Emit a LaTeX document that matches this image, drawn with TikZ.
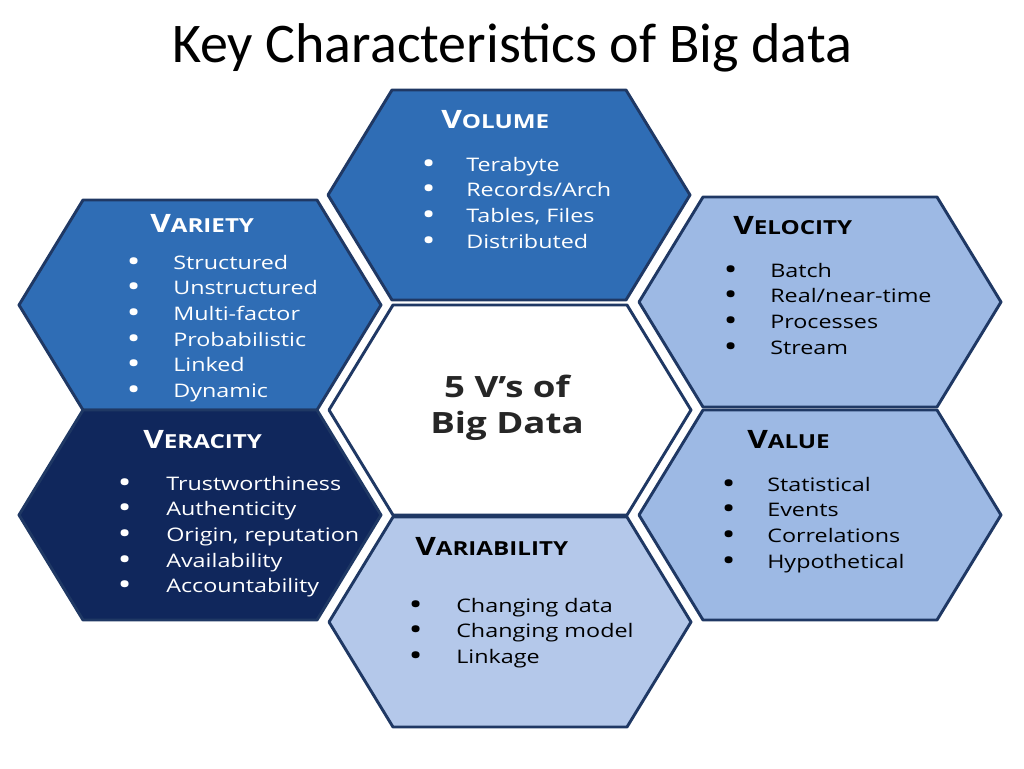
\documentclass[tikz,border=0pt]{standalone}
\usepackage{fontspec}
\setmainfont{Open Sans}[FakeStretch=1.25]
\newfontfamily\titlefont{Carlito}
\definecolor{bord}{HTML}{1F3864}
\definecolor{midblue}{HTML}{2F6DB5}
\definecolor{lightblue}{HTML}{9DB9E4}
\definecolor{paleblue}{HTML}{B4C8EA}
\definecolor{navy}{HTML}{10275C}
\newcommand{\hexagon}[3]{%
  \filldraw[fill=#3,draw=bord,line width=2.2pt,line join=round]
   (#1-181,#2) -- (#1-117,#2-105) -- (#1+117,#2-105) -- (#1+181,#2) -- (#1+117,#2+105) -- (#1-117,#2+105) -- cycle;}
\newcommand{\hd}[2]{{\fontsize{19}{19}\selectfont #1}{\fontsize{14.5}{14.5}\selectfont #2}}
\tikzset{item/.style={anchor=base west,inner sep=0pt,font=\fontsize{14}{14}\selectfont},
  head/.style={anchor=base west,inner sep=0pt,font=\bfseries}}
\newcommand{\items}[5]{% bulletx textx firsty color list
  \foreach \t [count=\i from 0] in {#5}{
    \node[item,text=#4] at (#1,#3+\i*25.7) {\bfseries\fontsize{17}{17}\selectfont •};
    \node[item,text=#4] at (#2,#3+\i*25.7) {\t};}}
\begin{document}
\begin{tikzpicture}[x=0.75pt,y=-0.75pt]
\useasboundingbox (0,0) rectangle (1024,768);
\node[font=\titlefont\fontsize{42}{42}\selectfont] (title) at (512,48) {Key Characteristics of Big data};
\hexagon{510}{410}{white}
\hexagon{509}{195}{midblue}
\hexagon{200}{305}{midblue}
\hexagon{820}{302}{lightblue}
\hexagon{200}{515}{navy}
\hexagon{820}{515}{lightblue}
\hexagon{510}{622}{paleblue}
% Volume
\node[head,text=white] (hvol) at (441,128) {\hd{V}{OLUME}};
\items{423}{466}{171}{white}{Terabyte,Records/Arch,{Tables, Files},Distributed}
% Variety
\node[head,text=white] (hvar) at (150,232) {\hd{V}{ARIETY}};
\items{128}{173}{269}{white}{Structured,Unstructured,Multi-factor,Probabilistic,Linked,Dynamic}
% Velocity
\node[head,text=black] (hvel) at (733,234) {\hd{V}{ELOCITY}};
\items{725}{770}{277}{black}{Batch,Real/near-time,Processes,Stream}
% Veracity
\node[head,text=white] (hver) at (143,448) {\hd{V}{ERACITY}};
\items{119}{166}{490}{white}{Trustworthiness,Authenticity,{Origin, reputation},Availability,Accountability}
% Value
\node[head,text=black] (hval) at (747,448) {\hd{V}{ALUE}};
\items{723}{767}{491}{black}{Statistical,Events,Correlations,Hypothetical}
% Variability
\node[head,text=black] (hvb) at (415,555) {\hd{V}{ARIABILITY}};
\items{410}{456}{612}{black}{Changing data,Changing model,Linkage}
% center
\node[font=\bfseries\fontsize{22}{27}\selectfont,align=center,text=black!85] (center) at (507,408) {5 V’s of\\Big Data};
\end{tikzpicture}
\end{document}
